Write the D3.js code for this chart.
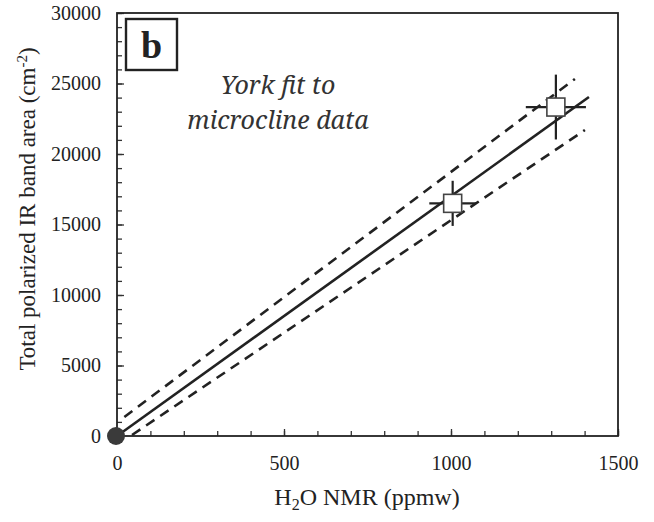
<!DOCTYPE html>
<html>
<head>
<meta charset="utf-8">
<script src="https://cdn.jsdelivr.net/npm/d3@7"></script>
<style>
  body { margin: 0; background: #fff; }
</style>
</head>
<body>
<div id="wrapper"></div>
<script>
// measured points (H2O NMR ppmw vs. total polarized IR band area)
const nmr_values = [0, 1005, 1314];
const ir_values = [0, 16500, 23330];
const nmr_errors = [0, 70, 90];
const ir_errors = [0, 1600, 2300];
const marker_types = ["circle", "square", "square"];

// York fit and its envelope
const fit_x = [0, 1413];
const fit_y = [0, 24040];
const upper_x = [22, 1371];
const upper_y = [1350, 25320];
const lower_x = [45, 1401];
const lower_y = [70, 21700];

const x_ticks = [0, 500, 1000, 1500];
const y_ticks = [0, 5000, 10000, 15000, 20000, 25000, 30000];

const serif = "'Liberation Serif', 'Times New Roman', serif";

function drawChart() {
    const dimensions = {
        width: 654,
        height: 522,
        margin: { top: 13, right: 36, bottom: 86, left: 117 }
    };
    dimensions.bounded_width = dimensions.width - dimensions.margin.left - dimensions.margin.right;
    dimensions.bounded_height = dimensions.height - dimensions.margin.top - dimensions.margin.bottom;

    const wrapper = d3.select("#wrapper")
        .append("svg")
        .attr("width", dimensions.width)
        .attr("height", dimensions.height)
        .style("font-family", serif);

    const bounds = wrapper.append("g")
        .attr("transform", `translate(${dimensions.margin.left},${dimensions.margin.top})`);

    const x_scale = d3.scaleLinear()
        .domain([0, 1500])
        .range([0, dimensions.bounded_width]);

    const y_scale = d3.scaleLinear()
        .domain([0, 30000])
        .range([dimensions.bounded_height, 0]);

    // minor ticks (inward)
    const x_minor = d3.range(0, 1501, 100);
    const y_minor = d3.range(0, 30001, 1000);

    bounds.append("g")
        .attr("transform", `translate(0,${dimensions.bounded_height})`)
        .call(d3.axisBottom(x_scale).tickValues(x_minor).tickSize(-5).tickFormat(""))
        .call(g => g.select(".domain").remove())
        .selectAll("line").attr("stroke", "#333").attr("stroke-width", 1.3);

    bounds.append("g")
        .call(d3.axisLeft(y_scale).tickValues(y_minor).tickSize(-5).tickFormat(""))
        .call(g => g.select(".domain").remove())
        .selectAll("line").attr("stroke", "#333").attr("stroke-width", 1.3);

    // major ticks with labels
    const x_axis = bounds.append("g")
        .attr("transform", `translate(0,${dimensions.bounded_height})`)
        .call(d3.axisBottom(x_scale).tickValues(x_ticks).tickSize(-7).tickPadding(20).tickFormat(d3.format("d")));
    x_axis.select(".domain").remove();
    x_axis.selectAll("line").attr("stroke", "#333").attr("stroke-width", 1.3);
    x_axis.selectAll("text")
        .style("font-family", serif)
        .style("font-size", "20px")
        .attr("fill", "#222");

    const y_axis = bounds.append("g")
        .call(d3.axisLeft(y_scale).tickValues(y_ticks).tickSize(-7).tickPadding(16).tickFormat(d3.format("d")));
    y_axis.select(".domain").remove();
    y_axis.selectAll("line").attr("stroke", "#333").attr("stroke-width", 1.3);
    y_axis.selectAll("text")
        .style("font-family", serif)
        .style("font-size", "20px")
        .attr("fill", "#222");

    // frame
    bounds.append("rect")
        .attr("width", dimensions.bounded_width)
        .attr("height", dimensions.bounded_height)
        .attr("fill", "none")
        .attr("stroke", "#222")
        .attr("stroke-width", 1.8);

    // fit lines
    const line_gen = d3.line()
        .x(d => x_scale(d[0]))
        .y(d => y_scale(d[1]));

    bounds.append("path")
        .datum(d3.zip(fit_x, fit_y))
        .attr("d", line_gen)
        .attr("stroke", "#222")
        .attr("stroke-width", 2.6)
        .attr("fill", "none");

    [d3.zip(upper_x, upper_y), d3.zip(lower_x, lower_y)].forEach(band => {
        bounds.append("path")
            .datum(band)
            .attr("d", line_gen)
            .attr("stroke", "#222")
            .attr("stroke-width", 2.6)
            .attr("stroke-dasharray", "10,7")
            .attr("fill", "none");
    });

    // error bars
    const dataset = nmr_values.map((v, i) => ({
        x: v, y: ir_values[i], ex: nmr_errors[i], ey: ir_errors[i], type: marker_types[i]
    }));

    const bars = bounds.selectAll(".err")
        .data(dataset.filter(d => d.ex > 0))
        .enter().append("g");
    bars.append("line")
        .attr("x1", d => x_scale(d.x - d.ex))
        .attr("x2", d => x_scale(d.x + d.ex))
        .attr("y1", d => y_scale(d.y))
        .attr("y2", d => y_scale(d.y))
        .attr("stroke", "#222").attr("stroke-width", 2.2);
    bars.append("line")
        .attr("x1", d => x_scale(d.x))
        .attr("x2", d => x_scale(d.x))
        .attr("y1", d => y_scale(d.y - d.ey))
        .attr("y2", d => y_scale(d.y + d.ey))
        .attr("stroke", "#222").attr("stroke-width", 2.2);

    // markers
    bounds.selectAll(".sq")
        .data(dataset.filter(d => d.type === "square"))
        .enter().append("rect")
        .attr("x", d => x_scale(d.x) - 9)
        .attr("y", d => y_scale(d.y) - 9)
        .attr("width", 18)
        .attr("height", 18)
        .attr("fill", "#fff")
        .attr("stroke", "#444")
        .attr("stroke-width", 1.6);

    bounds.selectAll(".dot")
        .data(dataset.filter(d => d.type === "circle"))
        .enter().append("circle")
        .attr("cx", d => x_scale(d.x) - 1)
        .attr("cy", d => y_scale(d.y))
        .attr("r", 9)
        .attr("fill", "#3a3a3a");

    // panel label
    bounds.append("rect")
        .attr("x", 9).attr("y", 6)
        .attr("width", 51).attr("height", 51)
        .attr("fill", "#fff")
        .attr("stroke", "#222")
        .attr("stroke-width", 2.4);
    bounds.append("text")
        .attr("x", 34.5).attr("y", 45)
        .attr("text-anchor", "middle")
        .attr("fill", "#222")
        .style("font-family", serif)
        .style("font-size", "38px")
        .style("font-weight", "bold")
        .text("b");

    // annotation
    const note = bounds.append("text")
        .attr("text-anchor", "middle")
        .attr("fill", "#333")
        .style("font-family", "'Noto Serif', serif")
        .style("font-size", "25px")
        .style("font-style", "italic");
    note.append("tspan").attr("x", 161).attr("y", 81).text("York fit to");
    note.append("tspan").attr("x", 161).attr("y", 116).text("microcline data");

    // axis labels
    const x_label = wrapper.append("text")
        .attr("x", 367)
        .attr("y", 505)
        .attr("text-anchor", "middle")
        .attr("fill", "#222")
        .style("font-family", serif)
        .style("font-size", "24px");
    x_label.append("tspan").text("H");
    x_label.append("tspan").attr("dy", 5).style("font-size", "16px").text("2");
    x_label.append("tspan").attr("dy", -5).text("O NMR (ppmw)");

    const y_label = wrapper.append("text")
        .attr("transform", "translate(35,209) rotate(-90)")
        .attr("text-anchor", "middle")
        .attr("fill", "#222")
        .style("font-family", serif)
        .style("font-size", "23px");
    y_label.append("tspan").text("Total polarized IR band area (cm");
    y_label.append("tspan").attr("dy", -8).style("font-size", "15px").text("-2");
    y_label.append("tspan").attr("dy", 8).text(")");
}

drawChart();
</script>
</body>
</html>
